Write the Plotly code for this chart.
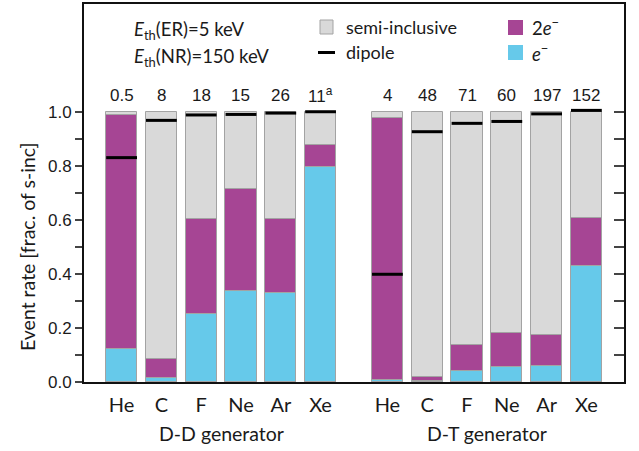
import plotly.graph_objects as go

# ---------------- data ----------------
elements = ["He", "C", "F", "Ne", "Ar", "Xe"]
generators = ["D-D generator", "D-T generator"]
rate_labels_dd = ["0.5", "8", "18", "15", "26", "11<sup>a</sup>"]
rate_labels_dt = ["4", "48", "71", "60", "197", "152"]

semi_inclusive_dd = [1.0, 1.0, 1.0, 1.0, 1.0, 1.0]
semi_inclusive_dt = [1.0, 1.0, 1.0, 1.0, 1.0, 1.0]
# cumulative top of the 2e- segment (e- + 2e-)
two_e_top_dd = [0.990, 0.087, 0.603, 0.714, 0.605, 0.877]
two_e_top_dt = [0.979, 0.019, 0.137, 0.181, 0.175, 0.609]
# single electron fraction
one_e_dd = [0.124, 0.015, 0.252, 0.337, 0.331, 0.796]
one_e_dt = [0.006, 0.005, 0.042, 0.056, 0.058, 0.431]
# dipole approximation
dipole_dd = [0.831, 0.969, 0.989, 0.991, 0.996, 1.001]
dipole_dt = [0.399, 0.927, 0.958, 0.965, 0.993, 1.006]

# ---------------- layout helpers ----------------
GAP = 6.68
x_dd = [i for i in range(len(elements))]
x_dt = [GAP + i for i in range(len(elements))]
xs = x_dd + x_dt

C_SEMI = "#d9d9d9"
C_2E = "#a64594"
C_1E = "#66c9ea"
C_EDGE = "#a3a3a3"
FONT = "Lato"
NUMFONT = "Liberation Sans"
TXT = "#1a1a1a"
BW = 0.78

fig = go.Figure()
for vals, col in [(semi_inclusive_dd + semi_inclusive_dt, C_SEMI),
                  (two_e_top_dd + two_e_top_dt, C_2E),
                  (one_e_dd + one_e_dt, C_1E)]:
    fig.add_trace(go.Bar(x=xs, y=vals, width=BW, marker=dict(color=col, line=dict(color=C_EDGE, width=1)),
                         showlegend=False, hoverinfo="skip"))

fig.add_trace(go.Scatter(x=xs, y=dipole_dd + dipole_dt, mode="markers", yaxis="y2",
                         marker=dict(symbol="line-ew", size=22, line=dict(color="black", width=3)),
                         showlegend=False, hoverinfo="skip"))

# plot area in pixels
L, R, T, B = 84, 624, 4, 382
W, H = 639, 451


def px(xp):
    return (xp - L) / (R - L)


def py(yp):
    return (B - yp) / (B - T)


ann = []
for x, t in zip(xs, rate_labels_dd + rate_labels_dt):
    ann.append(dict(x=x, y=1.062, xref="x", yref="y", text=t, showarrow=False,
                    font=dict(size=17, color=TXT, family=NUMFONT), yanchor="middle"))

for x, t in zip([(x_dd[0] + x_dd[-1]) / 2, (x_dt[0] + x_dt[-1]) / 2], generators):
    ann.append(dict(x=x, y=py(433), xref="x", yref="paper", text=t, showarrow=False,
                    font=dict(size=19.5, color=TXT, family=FONT), yanchor="middle"))

ann.append(dict(x=px(27), y=0.5, xref="paper", yref="y", text="Event rate [frac. of s-inc]",
                textangle=-90, showarrow=False, font=dict(size=19.5, color=TXT, family=FONT),
                xanchor="center", yanchor="middle"))

for t, xx, yy, fs in [("<i>E</i><sub>th</sub>(ER)=5 keV", 132, 30, 18.5),
                      ("<i>E</i><sub>th</sub>(NR)=150 keV", 132, 57, 18.5),
                      ("semi-inclusive", 344, 27, 18),
                      ("dipole", 344, 52, 18),
                      ("2<i>e</i><sup>−</sup>", 530, 27, 18.5),
                      ("<i>e</i><sup>−</sup>", 530, 52, 18.5)]:
    ann.append(dict(x=px(xx), y=py(yy), xref="paper", yref="paper", text=t, showarrow=False,
                    xanchor="left", yanchor="middle", font=dict(size=fs, color=TXT, family=FONT)))

shapes = [
    dict(type="rect", xref="paper", yref="paper", x0=px(320), x1=px(333), y0=py(34), y1=py(20),
         fillcolor=C_SEMI, line=dict(color=C_EDGE, width=1)),
    dict(type="line", xref="paper", yref="paper", x0=px(318), x1=px(335), y0=py(52.5), y1=py(52.5),
         line=dict(color="black", width=3)),
    dict(type="rect", xref="paper", yref="paper", x0=px(508), x1=px(523), y0=py(35), y1=py(20),
         fillcolor=C_2E, line=dict(width=0)),
    dict(type="rect", xref="paper", yref="paper", x0=px(508), x1=px(523), y0=py(60), y1=py(45),
         fillcolor=C_1E, line=dict(width=0)),
]

yticks = [round(0.1 * i, 1) for i in range(11)]
ytext = [f"{v:.1f}" if i % 2 == 0 else " " for i, v in enumerate(yticks)]

fig.update_layout(
    width=W, height=H,
    margin=dict(l=L, r=W - R, t=T, b=H - B, autoexpand=False),
    paper_bgcolor="white", plot_bgcolor="white",
    barmode="overlay", bargap=0,
    annotations=ann, shapes=shapes,
    font=dict(family=FONT, color=TXT),
    xaxis=dict(range=[-0.945, GAP + 5 + 0.945], tickvals=xs, ticktext=elements + elements,
               ticks="", showline=True, linecolor="#111", linewidth=2, mirror=True,
               showgrid=False, zeroline=False, tickfont=dict(size=20, color=TXT, family=FONT),
               ticklabelstandoff=4, automargin=False),
    yaxis=dict(range=[0, 1.4], tickvals=yticks, ticktext=ytext, ticks="outside", ticklen=7,
               tickwidth=1.5, tickcolor="#444", showline=True, linecolor="#111", linewidth=2,
               showgrid=False, zeroline=False, automargin=False,
               tickfont=dict(size=17, color=TXT, family=NUMFONT)),
    yaxis2=dict(overlaying="y", side="right", matches="y", range=[0, 1.4], tickvals=yticks,
                ticks="inside", ticklen=10, tickwidth=1.5, tickcolor="#444", showticklabels=False,
                showline=True, linecolor="#111", linewidth=2, showgrid=False, zeroline=False,
                automargin=False),
)

fig.write_html("out.html", config={"displayModeBar": False},
               post_script="document.body.style.margin='0px';document.body.style.padding='0px';")
